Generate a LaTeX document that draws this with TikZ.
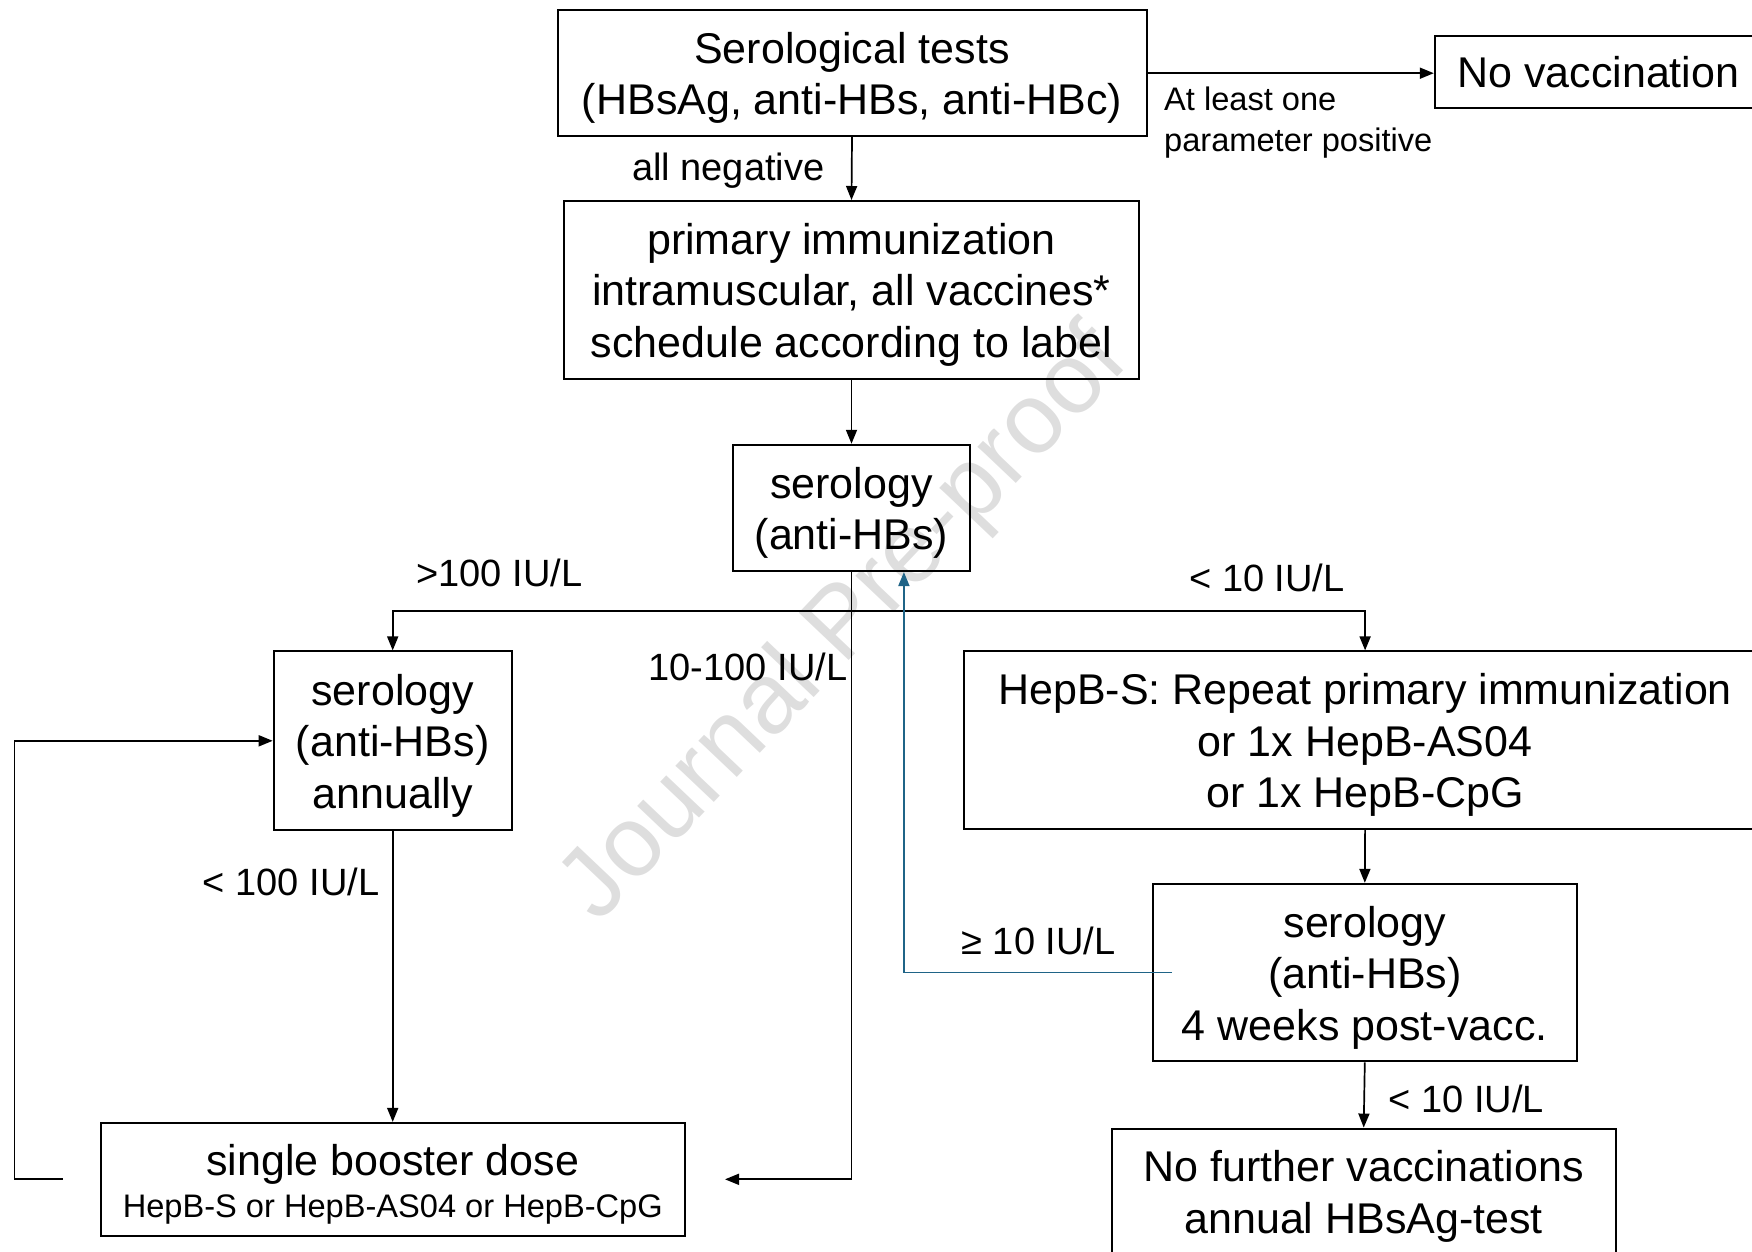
\documentclass[tikz,border=0pt]{standalone}
\usepackage{fontspec}
\setmainfont{Liberation Sans}
\usetikzlibrary{arrows.meta}
\newcommand\bigtxt{\fontsize{43}{51.5}\selectfont}
\newcommand\lbltxt{\fontsize{38}{45}\selectfont}
\newcommand\smalltxt{\fontsize{32.6}{41.5}\selectfont}
% taller first line: moves stacked box text slightly downwards
\newcommand\lift{\rule{0pt}{41pt}}
\definecolor{loopblue}{RGB}{31,100,135}
\definecolor{wmgray}{RGB}{222,222,222}
\begin{document}
\begin{tikzpicture}[x=1pt,y=-1pt,
  box/.style={draw, line width=2pt, inner sep=0pt, align=center, font=\bigtxt},
  lbl/.style={inner sep=0pt, font=\lbltxt},
  conn/.style={line width=1.7pt, -{Triangle[length=14pt,width=11pt]}},
  back/.style={conn, draw=loopblue, -{Triangle[length=14pt,width=11pt,fill=loopblue]}}]
\useasboundingbox (0,0) rectangle (1752,1251);
\clip (0,0) rectangle (1752,1251);

% watermark
\node[inner sep=0pt, text=wmgray, font=\fontsize{100}{100}\selectfont, rotate=46.5] (wm) at (846,626) {Journal Pre-proof};

% boxes
\node[box, minimum width=589pt, minimum height=126pt] (tests) at (852,73.2)
  {\lift Serological tests\\(HBsAg, anti-HBs, anti-HBc)};
\node[box, minimum width=327pt, minimum height=72.6pt] (novac) at (1598.3,72.1)
  {No vaccination};
\node[box, minimum width=575.5pt, minimum height=177.8pt] (prim) at (851.5,289.9)
  {\lift primary immunization\\intramuscular, all vaccines*\\schedule according to label};
\node[box, minimum width=237pt, minimum height=126.3pt] (ser1) at (851.5,507.9)
  {\lift serology\\(anti-HBs)};
\node[box, minimum width=238pt, minimum height=178.8pt] (annual) at (392.7,740.8)
  {\lift serology\\(anti-HBs)\\annually};
\node[box, minimum width=802pt, minimum height=177.6pt] (repeat) at (1365.1,740.2)
  {\lift HepB-S: Repeat primary immunization\\or 1x HepB-AS04\\or 1x HepB-CpG};
\node[box, minimum width=423.5pt, minimum height=177.6pt] (ser4) at (1364.8,972.6)
  {\lift serology\\(anti-HBs)\\4 weeks post-vacc.};
\node[box, minimum width=584.4pt, minimum height=112.8pt] (boost) at (392.8,1179.3)
  {\lift single booster dose\\[-9pt]{\smalltxt HepB-S or HepB-AS04 or HepB-CpG}};
\node[box, minimum width=504pt, minimum height=125.5pt] (nofur) at (1363.7,1191.3)
  {\lift No further vaccinations\\annual HBsAg-test};

% labels
\node[lbl, anchor=east] (lneg) at (824.6,171) {all negative};
\node[inner sep=0pt, anchor=west, align=left, font=\smalltxt] (lpos) at (1164,122.4)
  {At least one\\parameter positive};
\node[lbl] (lhigh) at (499.4,573) {>100 IU/L};
\node[lbl] (llow) at (1267,577.6) {< 10 IU/L};
\node[lbl] (lmid) at (748,667) {10-100 IU/L};
\node[lbl] (lann) at (291,881.5) {< 100 IU/L};
\node[lbl] (lgeq) at (1038.5,940.8) {≥ 10 IU/L};
\node[lbl] (lfail) at (1466.5,1099.3) {< 10 IU/L};

% helper points
\coordinate (branch) at (851.5,611.2);
\coordinate (boostend) at ([xshift=39pt]boost.east);
\coordinate (loopstart) at ([xshift=-37pt]boost.west);
\coordinate (loopcorner) at (14.5,1179.3);
\coordinate (bluestart) at ([xshift=20pt]ser4.west);
\coordinate (blueend) at ([xshift=52.4pt]ser1.south);

% connectors
\draw[conn] (tests.east) -- (tests.east -| novac.west);
\draw[conn] (tests.south) -- (prim.north);
\draw[conn] (prim.south) -- (ser1.north);
\draw[conn] (branch) -| (annual.north);
\draw[conn] (branch) -| (repeat.north);
\draw[conn] (ser1.south) -- (ser1.south |- boostend) -- (boostend);
\draw[conn] (annual.south) -- (annual.south |- boost.north);
\draw[conn] (loopstart) -- (loopcorner) |- (annual.west);
\draw[conn] (repeat.south) -- (ser4.north);
\draw[conn] (ser4.south) -- (nofur.north);
\draw[back] (bluestart) -| (blueend);
\end{tikzpicture}
\end{document}
